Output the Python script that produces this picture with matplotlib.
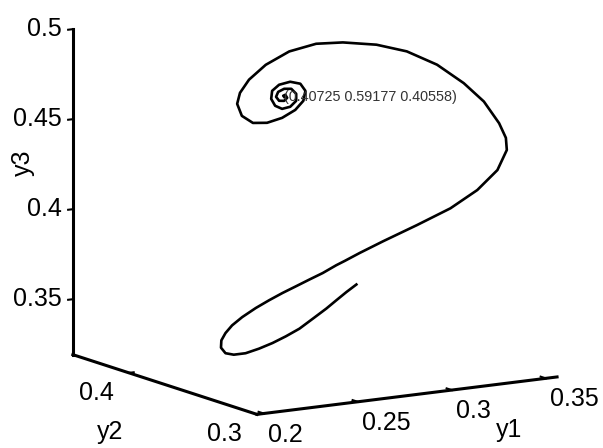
import matplotlib
matplotlib.use('Agg')
import matplotlib.pyplot as plt
from matplotlib.transforms import offset_copy
from mpl_toolkits.mplot3d import proj3d

# trajectory of the three-species system (y1, y2, y3)
y1 = [0.2901, 0.2848, 0.2794, 0.2741, 0.2669, 0.2598, 0.2526, 0.2455, 0.2383, 0.2312,
      0.2249, 0.2205, 0.2181, 0.2183, 0.2205, 0.2240, 0.2294, 0.2366, 0.2437, 0.2508,
      0.2580, 0.2651, 0.2722, 0.2794, 0.2839, 0.2919, 0.3044, 0.3223, 0.3401, 0.3544,
      0.3651, 0.3701, 0.3696, 0.3660, 0.3579, 0.3472, 0.3330, 0.3169, 0.3008, 0.2829,
      0.2687, 0.2544, 0.2419, 0.2330, 0.2282, 0.2267, 0.2292, 0.2351, 0.2426, 0.2506,
      0.2576, 0.2619, 0.2630, 0.2603, 0.2549, 0.2490, 0.2453, 0.2448, 0.2469, 0.2506,
      0.2549, 0.2581, 0.2581, 0.2555, 0.2517, 0.2485, 0.2474, 0.2490, 0.2517, 0.2533,
      0.2523, 0.2512, 0.2517]
y2 = [0.36] * len(y1)
y3 = [0.3653, 0.3618, 0.3579, 0.3540, 0.3493, 0.3447, 0.3414, 0.3386, 0.3364, 0.3348,
      0.3348, 0.3362, 0.3396, 0.3436, 0.3474, 0.3512, 0.3551, 0.3592, 0.3626, 0.3657,
      0.3685, 0.3713, 0.3740, 0.3774, 0.3792, 0.3826, 0.3875, 0.3941, 0.4011, 0.4094,
      0.4191, 0.4296, 0.4364, 0.4450, 0.4581, 0.4697, 0.4818, 0.4913, 0.4971, 0.5007,
      0.5018, 0.4994, 0.4936, 0.4865, 0.4798, 0.4739, 0.4669, 0.4622, 0.4613, 0.4630,
      0.4665, 0.4710, 0.4764, 0.4807, 0.4825, 0.4816, 0.4787, 0.4743, 0.4702, 0.4680,
      0.4686, 0.4715, 0.4754, 0.4785, 0.4790, 0.4777, 0.4751, 0.4727, 0.4723, 0.4738,
      0.4756, 0.4752, 0.4745]
eq_label = '(0.40725 0.59177 0.40558)'

xlim = (0.1964, 0.356)
ylim = (0.3, 0.4439)
zlim = (0.3192, 0.5)
y1_ticks = [0.2, 0.25, 0.3, 0.35]
y2_ticks = [0.3, 0.4]
y3_ticks = [0.35, 0.4, 0.45, 0.5]

plt.rcParams['font.family'] = ['Liberation Sans', 'DejaVu Sans']

fig = plt.figure(figsize=(6.03, 4.48), dpi=100)
ax = fig.add_axes([7.4 / 603, 14.9 / 448, 1.0, 1.0], projection='3d', proj_type='ortho')
ax.set_box_aspect((352.4, 348.6, 331.6), zoom=1.295)
ax.view_init(elev=11.6, azim=-121.8)
ax.set_xlim(*xlim)
ax.set_ylim(*ylim)
ax.set_zlim(*zlim)
ax.set_axis_off()


def to2d(x, y, z):
    xs, ys, _ = proj3d.proj_transform(x, y, z, ax.get_proj())
    return xs, ys


def label(x, y, z, s, dx, dy, **kw):
    # tick label placed next to a 3d point, shifted by (dx, dy) pixels
    xs, ys = to2d(x, y, z)
    ax.text2D(xs, ys, s, fontsize=fs,
              transform=offset_copy(ax.transData, fig=fig, x=dx, y=dy, units='dots'), **kw)


ax.plot(y1, y2, y3, color='black', lw=1.9, clip_on=False)

# matlab style box: only the three outer axis lines
x0, x1 = xlim
ya, yb = ylim
za, zb = zlim
ax.plot([x0, x1], [ya, ya], [za, za], color='black', lw=2.2, clip_on=False)
ax.plot([x0, x0], [ya, yb], [za, za], color='black', lw=2.2, clip_on=False)
ax.plot([x0, x0], [yb, yb], [za, zb], color='black', lw=2.2, clip_on=False)

fs = 18
for t in y3_ticks:
    ax.plot([x0, x0 - 0.0025], [yb, yb], [t, t], color='black', lw=1.5, clip_on=False)
    label(x0, yb, t, f'{t:g}', -11, 0, ha='right', va='center')
for t in y2_ticks:
    ax.plot([x0, x0 + 0.0025], [t, t], [za, za], color='black', lw=1.5, clip_on=False)
    label(x0, t, za, f'{t:g}', -15, -8, ha='right', va='top')
for t in y1_ticks:
    ax.plot([t, t], [ya, ya + 0.004], [za, za], color='black', lw=1.5, clip_on=False)
    label(t, ya, za, f'{t:g}', 4, -9, ha='left', va='top')

fig.text(23 / 603, 1 - 163 / 448, 'y3', rotation=90, ha='center', va='center', fontsize=fs)
fig.text(110 / 603, 1 - 432 / 448, 'y2', ha='center', va='center', fontsize=fs)
fig.text(509 / 603, 1 - 430 / 448, 'y1', ha='center', va='center', fontsize=fs)

ex, ey = to2d(y1[-1], y2[-1], y3[-1])
ax.text2D(ex, ey, eq_label, ha='left', va='center', fontsize=10.4, color='#333333',
          transform=ax.transData)

fig.savefig('out.png', dpi=100)
